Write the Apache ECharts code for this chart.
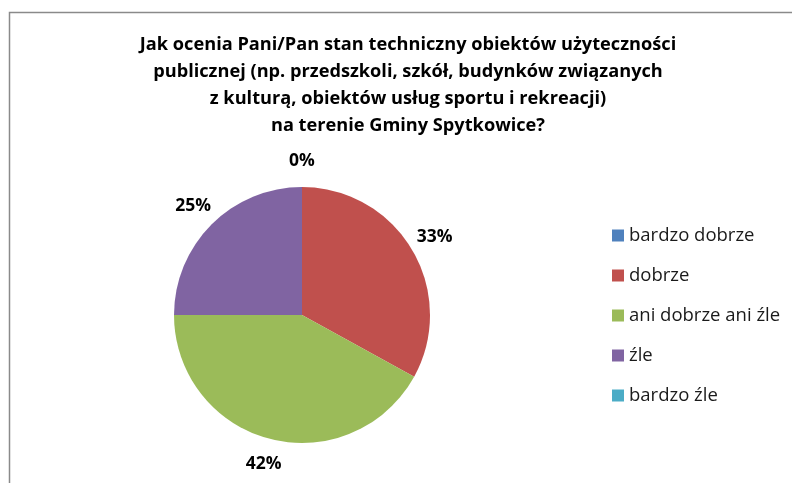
<!DOCTYPE html>
<html>
<head>
<meta charset="utf-8">
<script src="https://cdn.jsdelivr.net/npm/echarts@6/dist/echarts.min.js"></script>
<style>html,body{margin:0;padding:0;background:#fff}#c{width:792px;height:483px}</style>
</head>
<body>
<div id="c"></div>
<script>
const titleLines = [
  'Jak ocenia Pani/Pan stan techniczny obiektów użyteczności',
  'publicznej (np. przedszkoli, szkół, budynków związanych',
  'z kulturą, obiektów usług sportu i rekreacji)',
  'na terenie Gminy Spytkowice?'
];
const categories = ['bardzo dobrze', 'dobrze', 'ani dobrze ani źle', 'źle', 'bardzo źle'];
const values = [0, 33, 42, 25, 0];
const colors = ['#4F81BD', '#C0504D', '#9BBB59', '#8064A2', '#4BACC6'];
const showLabel = [true, true, true, true, false];

const font = '"Open Sans", sans-serif';
const chart = echarts.init(document.getElementById('c'));
const data = categories.map((n, i) => ({ name: n, value: values[i], itemStyle: { color: colors[i] } }));
const labelData = categories.map((n, i) => ({
  name: n, value: values[i],
  label: { show: showLabel[i] }
}));
chart.setOption({
  animation: false,
  title: {
    text: titleLines.join('\n'),
    left: 403, top: 26, textAlign: 'center',
    textStyle: { fontFamily: font, fontWeight: 'bold', fontSize: 18.2, lineHeight: 27, color: '#000' }
  },
  legend: {
    orient: 'vertical', left: 607, top: 221,
    itemWidth: 12, itemHeight: 12, itemGap: 21, icon: 'rect',
    textStyle: { fontFamily: font, fontSize: 18.5, lineHeight: 18, color: '#1a1a1a', padding: [0, 0, 0, 0] },
    data: categories
  },
  graphic: [{
    type: 'rect', silent: true, z: -1,
    shape: { x: 9.5, y: 12.5, width: 800, height: 500 },
    style: { fill: 'none', stroke: '#8a8a8a', lineWidth: 1.5 }
  }],
  series: [{
    type: 'pie', center: [302, 315], radius: 128, startAngle: 90, clockwise: true,
    label: { show: false }, labelLine: { show: false }, silent: true,
    data: data
  }, {
    type: 'pie', center: [302, 315], radius: [136, 166], startAngle: 90, clockwise: true,
    silent: true, legendHoverLink: false,
    itemStyle: { color: 'rgba(0,0,0,0)' },
    label: {
      position: 'inside', formatter: p => p.value + '%',
      fontFamily: font, fontWeight: 'bold', fontSize: 17.5, color: '#000'
    },
    labelLine: { show: false },
    data: labelData
  }]
});
</script>
</body>
</html>
